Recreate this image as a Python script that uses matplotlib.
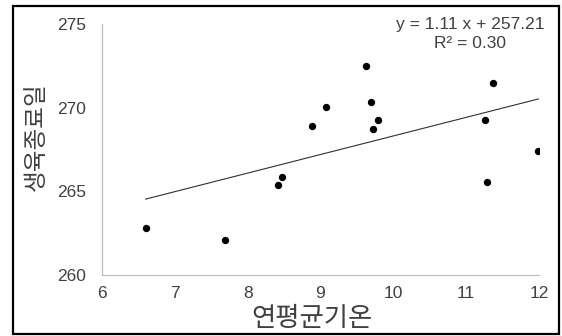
import matplotlib.pyplot as plt
from matplotlib.patches import Rectangle

plt.rcParams['font.family'] = ['Liberation Sans', 'Noto Sans CJK KR', 'DejaVu Sans']

# annual mean temperature vs. end-of-growth day
temp = [6.60, 7.69, 8.42, 8.47, 8.89, 9.08, 9.62, 9.70, 9.72, 9.79, 11.26, 11.29, 11.37, 11.99]
end_day = [262.79, 262.11, 265.37, 265.87, 268.89, 270.01, 272.47, 270.36, 268.75, 269.25,
           269.25, 265.55, 271.48, 267.40]
slope, intercept, r2 = 1.11, 257.21, 0.30

x_ticks = [6, 7, 8, 9, 10, 11, 12]
y_ticks = [260, 265, 270, 275]

TXT = "#404040"

fig = plt.figure(figsize=(5.62, 3.36), dpi=100)
ax = fig.add_axes([102 / 562, 1 - 275 / 336, 437 / 562, 251 / 336])

ax.scatter(temp, end_day, s=28, color="black", zorder=3, linewidths=0)
x0, x1 = min(temp), max(temp)
ax.plot([x0, x1], [slope * x0 + intercept, slope * x1 + intercept],
        color="#303030", linewidth=0.8)

ax.set_xlim(6, 12)
ax.set_ylim(260, 275)
ax.set_xticks(x_ticks)
ax.set_yticks(y_ticks)
ax.tick_params(length=0, labelsize=12.5, labelcolor=TXT)
ax.tick_params(axis="y", pad=11.5)
ax.tick_params(axis="x", pad=8)
for s in ["top", "right"]:
    ax.spines[s].set_visible(False)
for s in ["left", "bottom"]:
    ax.spines[s].set_color("#bfbfbf")
    ax.spines[s].set_linewidth(0.9)

fig.text(470 / 562, 1 - 25 / 336, f"y = {slope:.2f} x + {intercept:.2f}",
         ha="center", va="center", fontsize=12.5, color=TXT)
fig.text(470 / 562, 1 - 44 / 336, f"R² = {r2:.2f}",
         ha="center", va="center", fontsize=12.5, color=TXT)

fig.text(312 / 562, 1 - 319 / 336, "연평균기온", ha="center", va="center",
         fontsize=19, color=TXT, family=["Noto Sans CJK KR", "DejaVu Sans"])
fig.text(36 / 562, 1 - 137 / 336, "생육종료일", ha="center", va="center", rotation=90,
         fontsize=17, color=TXT, family=["Noto Sans CJK KR", "DejaVu Sans"])

fig.patches.append(Rectangle((12.5 / 562, 2 / 336), 546.5 / 562, 328 / 336,
                             transform=fig.transFigure, fill=False,
                             edgecolor="black", linewidth=1.6))

fig.savefig("out.png", dpi=100)
